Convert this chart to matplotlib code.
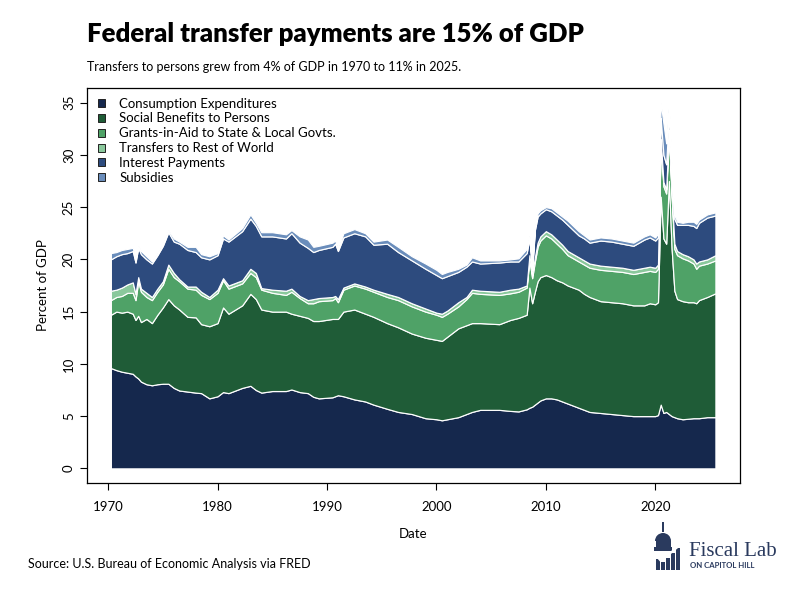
import numpy as np
import matplotlib
matplotlib.use("Agg")
import matplotlib.pyplot as plt
from matplotlib.patches import Rectangle, Wedge
from matplotlib.lines import Line2D

plt.rcParams['font.family'] = ['Lato', 'DejaVu Sans']

# ---------------- data (percent of GDP, quarterly readings) ----------------
dates = [1970.25, 1970.75, 1971.25, 1971.75, 1972.25, 1972.5, 1972.75, 1973.0, 1973.5, 1974.0,
         1974.5, 1975.0, 1975.5, 1976.0, 1976.5, 1977.25, 1978.0, 1978.5, 1979.25, 1980.0,
         1980.5, 1981.0, 1982.25, 1983.0, 1983.5, 1984.0, 1985.0, 1986.25, 1986.75, 1987.5,
         1988.25, 1988.75, 1989.25, 1990.5, 1990.75, 1991.0, 1991.5, 1992.5, 1993.5, 1994.25,
         1995.5, 1996.5, 1997.75, 1999.0, 2000.0, 2000.5, 2001.0, 2002.0, 2002.75, 2003.25,
         2004.0, 2005.75, 2006.75, 2007.5, 2008.25, 2008.5, 2008.75, 2009.0, 2009.25, 2009.5,
         2010.0, 2010.5, 2011.0, 2011.5, 2012.0, 2012.5, 2013.0, 2013.5, 2014.0, 2015.0,
         2016.0, 2017.0, 2018.0, 2019.0, 2019.5, 2020.0, 2020.25, 2020.5, 2020.75, 2021.0,
         2021.25, 2021.5, 2021.75, 2022.0, 2022.5, 2023.0, 2023.5, 2023.75, 2024.0, 2024.75,
         2025.5]

consumption = [9.6, 9.4, 9.25, 9.15, 9.05, 8.8, 8.6, 8.3, 8.05, 7.95,
               8.05, 8.1, 8.1, 7.7, 7.45, 7.35, 7.25, 7.2, 6.7, 6.9,
               7.3, 7.2, 7.7, 7.9, 7.5, 7.25, 7.4, 7.4, 7.55, 7.3,
               7.2, 6.85, 6.7, 6.8, 6.9, 7.0, 6.9, 6.6, 6.4, 6.1,
               5.7, 5.4, 5.2, 4.8, 4.7, 4.6, 4.7, 4.9, 5.2, 5.4,
               5.6, 5.6, 5.5, 5.45, 5.65, 5.8, 5.9, 6.1, 6.3, 6.5,
               6.7, 6.7, 6.6, 6.4, 6.2, 6.0, 5.8, 5.6, 5.4, 5.3,
               5.2, 5.1, 5.0, 5.0, 5.0, 5.0, 5.1, 6.1, 5.3, 5.4,
               5.2, 5.0, 4.9, 4.8, 4.7, 4.75, 4.8, 4.8, 4.8, 4.9,
               4.9]

social_benefits = [5.1, 5.6, 5.65, 5.85, 5.75, 5.4, 6.0, 5.7, 6.25, 5.95,
                   6.65, 7.3, 8.1, 7.9, 7.75, 7.15, 7.2, 6.6, 6.9, 7.0,
                   8.1, 7.6, 7.9, 8.8, 8.7, 7.95, 7.6, 7.6, 7.25, 7.3,
                   7.2, 7.25, 7.4, 7.5, 7.4, 7.3, 8.1, 8.6, 8.4, 8.4,
                   8.2, 8.1, 7.7, 7.7, 7.6, 7.6, 7.9, 8.5, 8.5, 8.5,
                   8.3, 8.2, 8.7, 8.95, 9.05, 11.5, 9.9, 10.8, 11.6, 11.8,
                   11.8, 11.6, 11.4, 11.4, 11.3, 11.3, 11.3, 11.1, 11.0, 10.7,
                   10.7, 10.7, 10.6, 10.6, 10.8, 10.7, 10.8, 19.9, 16.7, 16.1,
                   22.3, 16.0, 12.1, 11.4, 11.3, 11.15, 11.1, 11.0, 11.3, 11.5,
                   11.85]

grants_in_aid = [1.4, 1.4, 1.6, 1.8, 2.0, 1.9, 3.3, 2.9, 2.1, 2.2,
                 2.2, 2.2, 2.9, 2.7, 2.7, 2.7, 2.65, 2.8, 2.6, 2.9,
                 2.6, 2.4, 2.1, 2.0, 2.1, 1.9, 1.8, 1.6, 2.1, 1.7,
                 1.4, 1.7, 1.9, 1.8, 2.0, 1.6, 2.1, 2.3, 2.4, 2.4,
                 2.5, 2.6, 2.6, 2.5, 2.4, 2.3, 2.2, 2.1, 2.5, 2.9,
                 2.8, 2.8, 2.55, 2.5, 2.6, 2.7, 2.4, 2.9, 3.3, 3.5,
                 3.8, 3.7, 3.5, 3.2, 2.9, 2.8, 2.7, 2.8, 2.8, 3.0,
                 3.0, 3.0, 3.0, 3.2, 3.1, 3.1, 3.2, 5.0, 5.0, 4.8,
                 4.5, 5.0, 4.0, 4.2, 4.1, 4.0, 3.7, 3.3, 3.3, 3.2,
                 3.15]

rest_of_world = [0.9, 0.7, 0.8, 0.8, 1.0, 0.6, 0.4, 0.3, 0.4, 0.3,
                 0.3, 0.3, 0.4, 0.4, 0.2, 0.2, 0.3, 0.3, 0.2, 0.3,
                 0.2, 0.3, 0.3, 0.4, 0.4, 0.15, 0.3, 0.4, 0.3, 0.2,
                 0.3, 0.4, 0.3, 0.3, 0.2, 0.3, 0.2, 0.2, 0.2, 0.2,
                 0.3, 0.3, 0.3, 0.3, 0.2, 0.3, 0.3, 0.4, 0.2, 0.3,
                 0.3, 0.3, 0.35, 0.3, 0.2, 0.4, 0.3, 0.4, 0.4, 0.4,
                 0.4, 0.4, 0.4, 0.4, 0.4, 0.4, 0.4, 0.4, 0.4, 0.4,
                 0.4, 0.4, 0.4, 0.4, 0.4, 0.4, 0.4, 0.5, 0.4, 0.4,
                 0.4, 0.4, 0.5, 0.4, 0.4, 0.4, 0.4, 0.5, 0.4, 0.4,
                 0.5]

interest_payments = [3.0, 3.2, 3.2, 3.0, 3.0, 3.0, 2.8, 3.3, 3.2, 3.2,
                     3.2, 3.4, 3.1, 3.0, 3.4, 3.5, 3.3, 3.3, 3.6, 3.3,
                     3.8, 4.2, 4.7, 4.8, 4.5, 4.95, 5.1, 5.0, 5.3, 5.1,
                     5.0, 4.5, 4.6, 4.8, 5.0, 4.6, 4.8, 4.8, 4.8, 4.3,
                     4.8, 4.3, 4.1, 3.8, 3.6, 3.4, 3.3, 2.9, 2.9, 2.7,
                     2.6, 2.8, 2.7, 2.6, 3.1, 1.6, 0.5, 2.6, 2.5, 2.2,
                     2.1, 2.2, 2.3, 2.4, 2.5, 2.3, 2.1, 2.1, 2.0, 2.4,
                     2.4, 2.3, 2.3, 2.7, 2.8, 2.6, 2.6, 2.0, 2.6, 2.4,
                     1.6, 2.0, 2.4, 2.5, 2.8, 3.0, 3.2, 3.4, 3.7, 4.0,
                     3.8]

subsidies = [0.6, 0.4, 0.4, 0.4, 0.3, 0.3, 0.2, 0.3, 0.3, 0.2,
             0.2, 0.2, 0.2, 0.3, 0.2, 0.3, 0.5, 0.3, 0.3, 0.2,
             0.3, 0.2, 0.3, 0.4, 0.3, 0.4, 0.4, 0.4, 0.3, 0.6,
             0.8, 0.5, 0.4, 0.4, 0.3, 0.2, 0.4, 0.4, 0.3, 0.3,
             0.4, 0.5, 0.4, 0.5, 0.5, 0.4, 0.4, 0.3, 0.2, 0.4,
             0.3, 0.2, 0.2, 0.3, 0.4, 0.3, 0.2, 0.3, 0.3, 0.3,
             0.2, 0.3, 0.3, 0.3, 0.4, 0.4, 0.4, 0.3, 0.3, 0.3,
             0.3, 0.3, 0.3, 0.3, 0.3, 0.3, 0.4, 1.5, 3.0, 2.0,
             1.0, 0.6, 0.5, 0.3, 0.2, 0.3, 0.4, 0.4, 0.3, 0.3,
             0.3]

labels = ["Consumption Expenditures", "Social Benefits to Persons",
          "Grants-in-Aid to State & Local Govts.", "Transfers to Rest of World",
          "Interest Payments", "Subsidies"]
colors = ["#15284d", "#1f5c37", "#4fa267", "#8ac89c", "#2d4b7e", "#6a8dbb"]

x_ticks = [1970, 1980, 1990, 2000, 2010, 2020]
y_ticks = [0, 5, 10, 15, 20, 25, 30, 35]

title = "Federal transfer payments are 15% of GDP"
subtitle = "Transfers to persons grew from 4% of GDP in 1970 to 11% in 2025."
source = "Source: U.S. Bureau of Economic Analysis via FRED"

# ---------------- figure ----------------
W, H = 800, 600
fig = plt.figure(figsize=(8, 6), dpi=100)


def fx(x):
    return x / W


def fy(y):
    return 1 - y / H


ax = fig.add_axes([fx(86.7), fy(483), (739.6 - 86.7) / W, (483 - 88) / H])

d = np.array(dates)
series = [np.array(s, dtype=float) for s in
          (consumption, social_benefits, grants_in_aid, rest_of_world, interest_payments, subsidies)]
lower = np.zeros(len(d))
for s, c in zip(series, colors):
    upper = lower + s
    ax.fill_between(d, lower, upper, facecolor=c, edgecolor="white", linewidth=0.85)
    lower = upper

# R-style 4% padding
xr = d.max() - d.min()
ax.set_xlim(d.min() - 0.04 * xr, d.max() + 0.04 * xr)
ymax = lower.max()
ax.set_ylim(-0.04 * ymax, 1.04 * ymax)

ax.set_xticks(x_ticks)
ax.set_yticks(y_ticks)
ax.set_xticklabels([str(t) for t in x_ticks])
ax.set_yticklabels([str(t) for t in y_ticks], rotation=90, va="center")
ax.tick_params(axis="both", direction="out", length=5, width=0.8, labelsize=9.5, colors="black")
ax.tick_params(axis="x", pad=8)
ax.tick_params(axis="y", pad=3.5)
for sp in ax.spines.values():
    sp.set_linewidth(0.9)
    sp.set_color("black")

ax.set_xlabel("Date", fontsize=9.5, labelpad=11)
ax.set_ylabel("Percent of GDP", fontsize=9.5, labelpad=10)

handles = [Rectangle((0, 0), 1, 1, facecolor=c, edgecolor="#222222", linewidth=0.7) for c in colors]
leg = ax.legend(handles, labels, loc="upper left", bbox_to_anchor=(fx(97.5), fy(97.5)),
                bbox_transform=fig.transFigure, frameon=False, fontsize=9.5,
                handlelength=0.6, handleheight=0.55, handletextpad=1.05,
                labelspacing=0.22, borderpad=0, borderaxespad=0)

fig.text(fx(87), fy(42), title, fontsize=18.5, fontweight="heavy", va="baseline", ha="left")
fig.text(fx(87), fy(71), subtitle, fontsize=9, va="baseline", ha="left")
fig.text(fx(28), fy(568), source, fontsize=9, va="baseline", ha="left")

# ---------------- logo ----------------
navy = "#2a3a5e"
tr = fig.dpi_scale_trans


def P(x, y):
    return (x / 100.0, (H - y) / 100.0)


def add(p):
    p.set_transform(tr)
    fig.add_artist(p)


add(Rectangle(P(662.0, 532), 0.02, 0.10, facecolor=navy, edgecolor="none"))
add(Wedge(P(663.0, 541), 0.08, 0, 180, facecolor=navy, edgecolor="none"))
add(Rectangle(P(655.5, 547), 0.15, 0.065, facecolor=navy, edgecolor="none"))
add(Rectangle(P(654, 551), 0.18, 0.045, facecolor=navy, edgecolor="none"))
for bx, top in [(656, 559), (661, 562), (666, 558), (671, 553), (676, 548)]:
    add(Rectangle(P(bx, 570), 0.037, (570 - top) / 100.0, facecolor=navy, edgecolor="none"))
chk = Line2D([P(654, 553)[0], P(661, 561)[0], P(687, 539)[0]],
             [P(654, 553)[1], P(661, 561)[1], P(687, 539)[1]],
             color="white", linewidth=1.6, transform=tr)
fig.add_artist(chk)

fig.text(fx(689), fy(556), "Fiscal Lab", fontsize=15, family=["Liberation Serif", "DejaVu Serif"],
         color=navy, va="baseline", ha="left")
fig.text(fx(690), fy(568.5), "ON CAPITOL HILL", fontsize=5.6, fontweight="bold",
         color=navy, va="baseline", ha="left")

fig.savefig("out.png", dpi=100)
